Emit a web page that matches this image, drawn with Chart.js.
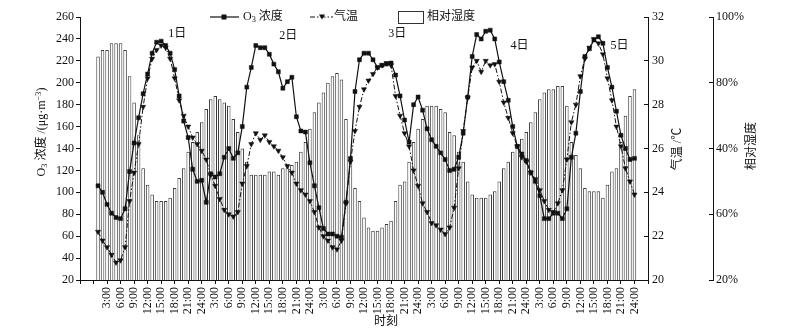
<!DOCTYPE html>
<html>
<head>
<meta charset="utf-8">
<script src="https://cdn.jsdelivr.net/npm/chart.js@4.4.1/dist/chart.umd.min.js"></script>
<style>
html,body{margin:0;padding:0;background:#fff;}
#wrap{width:791px;height:335px;position:relative;}
</style>
</head>
<body>
<div id="wrap"><canvas id="c" width="791" height="335"></canvas></div>
<script>
// ---------------- data (hourly, 1:00 of day 1 to 24:00 of day 5) ----------------
const o3Day1 = [106,100,89,81,77,76,85,119,145,168,190,208,227,237,238,234,227,212,188,165,150,121,110,111];
const o3Day2 = [91,117,114,117,132,140,131,136,160,196,214,234,232,232,226,217,210,195,201,205,169,156,155,127];
const o3Day3 = [106,86,67,62,62,60,59,91,131,192,221,227,227,221,214,216,217,218,207,188,166,146,180,187];
const o3Day4 = [175,158,148,142,136,130,120,121,132,154,187,224,244,240,247,248,240,219,201,184,160,142,135,129];
const o3Day5 = [118,110,97,76,76,81,81,76,85,132,154,192,224,231,239,242,236,214,196,174,152,140,130,131];

const tempDay1 = [22.2,21.8,21.5,21.15,20.8,20.9,21.5,23.6,24.9,26.2,27.9,29.2,30.1,30.5,30.7,30.6,30.1,29.2,28.2,27.5,27.0,26.5,26.2,25.9];
const tempDay2 = [25.5,24.8,24.3,23.7,23.2,23.0,22.9,23.1,24.4,25.2,26.2,26.7,26.4,26.6,26.3,26.1,25.9,25.6,25.2,24.9,24.4,24.1,23.9,23.6];
const tempDay3 = [23.1,22.4,22.0,21.8,21.5,21.4,21.8,23.5,25.4,26.8,27.9,28.7,29.1,29.4,29.7,29.8,29.9,29.8,28.4,27.5,26.7,26.1,25.0,24.3];
const tempDay4 = [23.5,23.1,22.6,22.5,22.3,22.1,22.4,23.3,25.1,26.8,28.3,29.7,30.0,29.5,30.0,29.8,29.85,29.05,28.1,27.4,26.7,26.1,25.6,25.4];
const tempDay5 = [24.9,24.6,24.1,23.6,23.2,23.1,23.5,24.1,25.5,27.2,28.0,29.3,30.1,30.6,31.0,30.8,30.3,29.2,28.2,27.0,26.1,25.1,24.5,23.9];

const humDay1 = [88,90,90,92,92,92,90,82,74,64,54,49,46,44,44,44,45,48,51,54,59,62,65,68];
const humDay2 = [72,75,76,75,74,73,69,65,60,56,52,52,52,52,53,53,52,54,54,55,56,59,62,66];
const humDay3 = [71,74,77,80,82,83,81,69,56,48,44,39,36,35,35,36,37,38,44,49,50,56,62,66];
const humDay4 = [69,73,73,73,72,71,65,64,59,56,50,46,45,45,45,46,47,50,54,56,59,61,63,65];
const humDay5 = [68,71,75,77,78,78,79,79,73,62,58,54,48,47,47,47,45,49,53,54,62,70,76,78];

// category axis: leading hours (21:00-24:00 of previous day), 120 data hours, trailing hours
const leadHours = [21,22,23,24];
const trailHours = [1,2,3];
const shownTickLabels = ['3:00','6:00','9:00','12:00','15:00','18:00','21:00','24:00'];
const humTickValues = [20,40,60,80,100];
const humTickLabels = ['20%','60%','40%','80%','100%'];
const dayLabels = ['1日','2日','3日','4日','5日'];
const dayLabelAnchors = [[21.6,245],[46.2,242.5],[70.4,245],[97.5,234],[119.7,234]]; // [category index, O3-axis value]

// ---------------- build tables ----------------
const o3 = [].concat(o3Day1,o3Day2,o3Day3,o3Day4,o3Day5);
const temp = [].concat(tempDay1,tempDay2,tempDay3,tempDay4,tempDay5);
const hum = [].concat(humDay1,humDay2,humDay3,humDay4,humDay5);
const dataHours = [];
for (let d = 0; d < 5; d++) for (let h = 1; h <= 24; h++) dataHours.push(h);
const hours = [].concat(leadHours, dataHours, trailHours);
const labels = hours.map(h => h + ':00');
const LEAD = leadHours.length;
const pad = arr => [].concat(leadHours.map(() => null), arr, trailHours.map(() => null));

const FAM = "'Liberation Serif','Noto Sans CJK SC',serif";
const INK = '#111';
const FS = 12;

function richWidth(ctx, parts, size) {
  let w = 0;
  for (const p of parts) { ctx.font = (size * (p.s || 1)) + 'px ' + FAM; w += ctx.measureText(p.t).width; }
  return w;
}
function drawRich(ctx, parts, x, y, size, align) {
  const w = richWidth(ctx, parts, size);
  let cx = align === 'center' ? x - w / 2 : x;
  ctx.textBaseline = 'middle';
  ctx.textAlign = 'left';
  for (const p of parts) {
    ctx.font = (size * (p.s || 1)) + 'px ' + FAM;
    ctx.fillText(p.t, cx, y + (p.dy || 0) * size);
    cx += ctx.measureText(p.t).width;
  }
}
function drawRotated(ctx, parts, cx, cy, size) {
  ctx.save();
  ctx.translate(cx, cy);
  ctx.rotate(-Math.PI / 2);
  drawRich(ctx, parts, 0, 0, size, 'center');
  ctx.restore();
}

const decor = {
  id: 'decor',
  beforeDraw(chart) {
    const ctx = chart.ctx;
    ctx.save();
    ctx.fillStyle = '#fff';
    ctx.fillRect(0, 0, chart.width, chart.height);
    ctx.restore();
  },
  afterDraw(chart) {
    const ctx = chart.ctx;
    const xs = chart.scales.x, ys = chart.scales.y;
    ctx.save();
    ctx.fillStyle = INK;
    ctx.strokeStyle = INK;
    // axis titles
    drawRotated(ctx, [{t:'O'},{t:'3',s:0.7,dy:0.25},{t:' 浓度 /(μg·m'},{t:'−3',s:0.7,dy:-0.3},{t:')'}], 42, 132, FS);
    drawRotated(ctx, [{t:'气温 /℃'}], 678, 149, FS);
    drawRotated(ctx, [{t:'相对湿度'}], 752, 146, FS);
    drawRich(ctx, [{t:'时刻'}], 386, 322, FS, 'center');
    // day labels
    dayLabelAnchors.forEach((a, i) => {
      drawRich(ctx, [{t: dayLabels[i]}], xs.getPixelForValue(a[0]), ys.getPixelForValue(a[1]), FS, 'center');
    });
    // legend: O3
    const ly = 17;
    ctx.lineWidth = 1.2;
    ctx.setLineDash([]);
    ctx.beginPath(); ctx.moveTo(210, ly); ctx.lineTo(239, ly); ctx.stroke();
    ctx.fillRect(221.5, ly - 2.5, 5, 5);
    drawRich(ctx, [{t:'O'},{t:'3',s:0.7,dy:0.25},{t:' 浓度'}], 243, ly, FS, 'left');
    // legend: temperature
    ctx.lineWidth = 1;
    ctx.setLineDash([5,2,1.5,2]);
    ctx.beginPath(); ctx.moveTo(310, ly); ctx.lineTo(333, ly); ctx.stroke();
    ctx.setLineDash([]);
    ctx.beginPath(); ctx.moveTo(319, ly - 2.5); ctx.lineTo(325, ly - 2.5); ctx.lineTo(322, ly + 2.5); ctx.closePath(); ctx.fill();
    drawRich(ctx, [{t:'气温'}], 334, ly, FS, 'left');
    // legend: humidity
    ctx.fillStyle = '#fff';
    ctx.fillRect(398.5, 11.5, 25, 12);
    ctx.lineWidth = 1;
    ctx.strokeStyle = '#333';
    ctx.strokeRect(398.5, 11.5, 25, 12);
    ctx.fillStyle = INK;
    drawRich(ctx, [{t:'相对湿度'}], 427, ly, FS, 'left');
    ctx.restore();
  }
};

const tickFont = { family: FAM, size: FS };

new Chart(document.getElementById('c'), {
  type: 'bar',
  data: {
    labels: labels,
    datasets: [
      { type: 'line', label: 'O3 浓度', data: pad(o3), yAxisID: 'y', order: 0,
        borderColor: INK, borderWidth: 1.2, tension: 0,
        pointStyle: 'rect', pointRadius: 2.8, pointBackgroundColor: INK, pointBorderColor: INK, pointBorderWidth: 0.5 },
      { type: 'line', label: '气温', data: pad(temp), yAxisID: 'yT', order: 1,
        borderColor: INK, borderWidth: 1, borderDash: [5,2,1.5,2], tension: 0,
        pointStyle: 'triangle', pointRotation: 180, pointRadius: 3, pointBackgroundColor: INK, pointBorderColor: INK, pointBorderWidth: 0.5 },
      { type: 'bar', label: '相对湿度', data: pad(hum), yAxisID: 'yH', order: 2,
        backgroundColor: '#fff', borderColor: '#3a3a3a', borderWidth: 1,
        barPercentage: 0.78, categoryPercentage: 1 }
    ]
  },
  options: {
    responsive: false,
    animation: false,
    devicePixelRatio: 1,
    layout: { padding: { top: 17, left: 0, right: 0, bottom: 0 } },
    plugins: { legend: { display: false }, tooltip: { enabled: false } },
    scales: {
      x: {
        type: 'category', offset: false,
        grid: { offset: false, drawOnChartArea: false, drawTicks: true, tickLength: 4,
                color: c => (hours[c.index] % 3 === 0 ? INK : 'rgba(0,0,0,0)') },
        border: { display: true, color: INK, width: 1 },
        ticks: { autoSkip: false, minRotation: 90, maxRotation: 90, padding: 3, color: INK, font: tickFont,
                 callback: (v, i) => (i >= LEAD && i < LEAD + o3.length && shownTickLabels.includes(labels[i])) ? labels[i] : '' },
        afterFit: s => { s.height = 55; }
      },
      y: {
        position: 'left', min: 20, max: 260,
        grid: { drawOnChartArea: false, tickLength: 4, color: INK },
        border: { display: true, color: INK, width: 1 },
        ticks: { stepSize: 20, padding: 2, color: INK, font: tickFont },
        afterFit: s => { s.width = 80; }
      },
      yT: {
        position: 'right', weight: 0, min: 20, max: 32,
        grid: { drawOnChartArea: false, tickLength: -4, color: INK },
        border: { display: true, color: INK, width: 1 },
        ticks: { stepSize: 2, padding: 8, color: INK, font: tickFont },
        afterFit: s => { s.width = 65; }
      },
      yH: {
        position: 'right', weight: 1, min: 20, max: 100,
        grid: { drawOnChartArea: false, tickLength: -4, color: INK },
        border: { display: true, color: INK, width: 1 },
        ticks: { stepSize: 20, padding: 7, color: INK, font: tickFont,
                 callback: v => humTickLabels[humTickValues.indexOf(v)] },
        afterFit: s => { s.width = 78; }
      }
    }
  },
  plugins: [decor]
});
</script>
</body>
</html>
